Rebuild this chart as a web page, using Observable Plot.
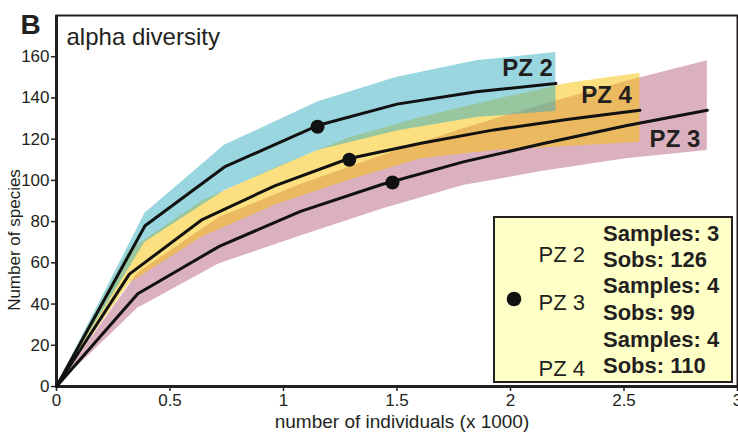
<!DOCTYPE html>
<html>
<head>
<meta charset="utf-8">
<script src="https://cdn.jsdelivr.net/npm/d3@7"></script>
<script src="https://cdn.jsdelivr.net/npm/@observablehq/plot@0.6"></script>
<style>
  html, body { margin: 0; padding: 0; background: #fff; }
</style>
</head>
<body>
<div id="chart"></div>
<script>
// ---- data (x in thousands of individuals, y = number of species) ----
const xTicks = [0, 0.5, 1, 1.5, 2, 2.5, 3];
const yTicks = [0, 20, 40, 60, 80, 100, 120, 140, 160];

const pz2X     = [0, 0.39, 0.74, 1.15, 1.5, 1.85, 2.2];
const pz2Mean  = [0, 78, 106.5, 126.6, 137, 143, 147];
const pz2Lower = [0, 70, 95, 114.5, 124, 130.5, 133.5];
const pz2Upper = [0, 84, 117, 138, 150, 158, 162];

const pz4X     = [0, 0.321, 0.642, 0.964, 1.285, 1.606, 1.927, 2.249, 2.57];
const pz4Mean  = [0, 54.5, 81, 97.5, 110.5, 118, 124.5, 129.5, 134];
const pz4Lower = [0, 50, 72.5, 88, 100, 110.5, 114.5, 116.5, 118.5];
const pz4Upper = [0, 66, 90, 106, 120.5, 130.5, 139, 147, 152];

const pz3X     = [0, 0.358, 0.717, 1.075, 1.433, 1.792, 2.15, 2.508, 2.867];
const pz3Mean  = [0, 45, 68, 85, 98, 109, 118, 126.5, 134];
const pz3Lower = [0, 38, 59.5, 73, 86, 97.5, 104.5, 110.5, 114.5];
const pz3Upper = [0, 55, 82, 98, 112, 125, 137, 148, 158];

// observed samples (dots) and legend
const legendLabels  = ["PZ 2", "PZ 3", "PZ 4"];
const legendSamples = [3, 4, 4];
const legendSobs    = [126, 99, 110];
const obsX          = [1.15, 1.48, 1.29];

const INK = "#231f20";
const FONT = "'Liberation Sans', Arial, Helvetica, sans-serif";

function rows(name, xs, m, lo, hi) {
  return xs.map((x, i) => ({name, x, mean: m[i], lo: lo[i], hi: hi[i]}));
}
const pz2 = rows("PZ 2", pz2X, pz2Mean, pz2Lower, pz2Upper);
const pz3 = rows("PZ 3", pz3X, pz3Mean, pz3Lower, pz3Upper);
const pz4 = rows("PZ 4", pz4X, pz4Mean, pz4Lower, pz4Upper);
const obs = legendLabels.map((name, i) => ({name, x: obsX[i], y: legendSobs[i]}));
const ends = [pz2, pz4, pz3].map(s => s[s.length - 1]);

const W = 738, H = 432, ML = 56, MR = 1, MT = 15, MB = 46;

const chart = Plot.plot({
  width: W, height: H,
  marginLeft: ML, marginRight: MR, marginTop: MT, marginBottom: MB,
  style: {fontFamily: FONT, fontSize: "17px", color: INK, background: "#fff", overflow: "visible"},
  x: {domain: [0, 3]},
  y: {domain: [0, 180]},
  marks: [
    Plot.areaY(pz3, {x: "x", y1: "lo", y2: "hi", fill: "#b76381", fillOpacity: 0.5}),
    Plot.areaY(pz4, {x: "x", y1: "lo", y2: "hi", fill: "#f9c100", fillOpacity: 0.5}),
    Plot.areaY(pz2, {x: "x", y1: "lo", y2: "hi", fill: "#33adbf", fillOpacity: 0.5}),
    Plot.frame({stroke: INK, strokeWidth: 2}),
    Plot.axisX({ticks: xTicks, tickSize: 5, tickPadding: 2, tickFormat: d => String(d), label: null, strokeWidth: 1.5}),
    Plot.axisY({ticks: yTicks, tickSize: 5, tickPadding: 2, label: null, strokeWidth: 1.5}),
    Plot.ruleX([0], {stroke: INK, strokeWidth: 3}),
    Plot.ruleY([0], {stroke: INK, strokeWidth: 3}),
    Plot.lineY(pz3, {x: "x", y: "mean", stroke: "#111", strokeWidth: 3, strokeLinejoin: "round"}),
    Plot.lineY(pz4, {x: "x", y: "mean", stroke: "#111", strokeWidth: 3, strokeLinejoin: "round"}),
    Plot.lineY(pz2, {x: "x", y: "mean", stroke: "#111", strokeWidth: 3, strokeLinejoin: "round"}),
    Plot.dot(obs, {x: "x", y: "y", r: 7, fill: "#111"}),
    // series end labels
    Plot.text([ends[0]], {x: "x", y: "mean", text: "name", textAnchor: "end", lineAnchor: "bottom", dx: -3, dy: -8, fontSize: 24, fontWeight: "bold", fill: INK}),
    Plot.text([ends[1]], {x: "x", y: "mean", text: "name", textAnchor: "end", lineAnchor: "bottom", dx: -8, dy: -7, fontSize: 24, fontWeight: "bold", fill: INK}),
    Plot.text([ends[2]], {x: "x", y: "mean", text: "name", textAnchor: "end", lineAnchor: "bottom", dx: -7, dy: 37, fontSize: 24, fontWeight: "bold", fill: INK}),
    // panel letter & title
    Plot.text(["B"], {frameAnchor: "top-left", text: d => d, textAnchor: "start", lineAnchor: "bottom", dx: -36, dy: 18, fontSize: 28, fontWeight: "bold", fill: INK}),
    Plot.text(["alpha diversity"], {frameAnchor: "top-left", text: d => d, textAnchor: "start", lineAnchor: "bottom", dx: 10, dy: 29, fontSize: 24, fill: INK}),
    // axis titles
    Plot.text(["number of individuals (x 1000)"], {frameAnchor: "bottom", text: d => d, textAnchor: "middle", lineAnchor: "bottom", dx: 5, dy: 41, fontSize: 19, fill: INK}),
    Plot.text(["Number of species"], {frameAnchor: "left", text: d => d, rotate: -90, textAnchor: "middle", lineAnchor: "bottom", dx: -37, dy: 39, fontSize: 17, fill: INK})
  ]
});

document.getElementById("chart").appendChild(chart);

// ---- legend box inside the plot (bottom-right) ----
const fr = W - MR, fb = H - MB;
const svg = d3.select(chart);
const g = svg.append("g").attr("font-family", FONT).attr("fill", INK).attr("text-anchor", "start");
g.append("rect")
  .attr("x", fr - 243).attr("y", fb - 169)
  .attr("width", 238).attr("height", 165)
  .attr("fill", "#ffffc8").attr("stroke", INK).attr("stroke-width", 2);
g.append("circle").attr("cx", fr - 223).attr("cy", fb - 87).attr("r", 7.3).attr("fill", "#111");
const labelBase = [fb - 124, fb - 76, fb - 10];
legendLabels.forEach((lab, i) => {
  g.append("text").attr("x", fr - 152).attr("y", labelBase[i])
    .attr("text-anchor", "end").attr("font-size", 22).text(lab);
});
const infoBase = [fb - 145, fb - 119, fb - 93, fb - 66, fb - 39, fb - 13];
legendLabels.forEach((lab, i) => {
  g.append("text").attr("x", fr - 134).attr("y", infoBase[2 * i]).attr("text-anchor", "start")
    .attr("font-size", 22).attr("font-weight", "bold").text("Samples: " + legendSamples[i]);
  g.append("text").attr("x", fr - 134).attr("y", infoBase[2 * i + 1]).attr("text-anchor", "start")
    .attr("font-size", 22).attr("font-weight", "bold").text("Sobs: " + legendSobs[i]);
});
</script>
</body>
</html>
